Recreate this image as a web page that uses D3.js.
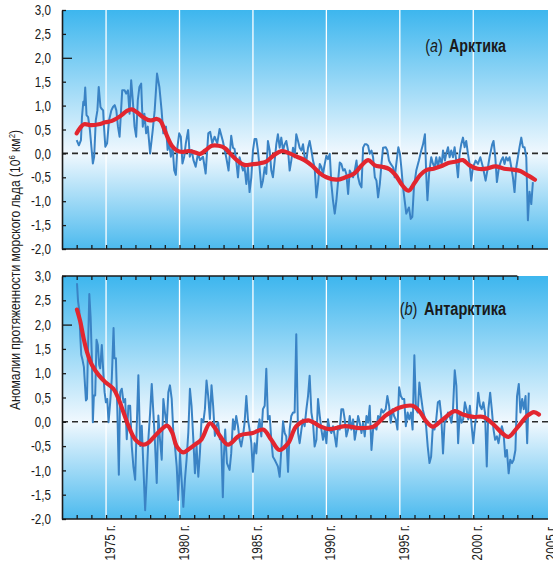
<!DOCTYPE html>
<html>
<head>
<meta charset="utf-8">
<script src="https://cdn.jsdelivr.net/npm/d3@7"></script>
<style>
  body { margin: 0; background: #fff; }
  svg text { font-family: "Liberation Sans", Arial, sans-serif; fill: #1a1a1a; }
</style>
</head>
<body>
<div id="chart"></div>
<script>
// monthly anomalies [year, 10^6 km2]
var arcticMonthly = [
  [1973.0,0.28],[1973.15,0.17],[1973.29,0.28],[1973.36,0.76],[1973.45,1.08],[1973.51,1.01],[1973.58,1.38],[1973.67,0.8],
  [1973.78,0.76],[1973.9,0.49],[1974.0,0.14],[1974.1,-0.21],[1974.19,-0.07],[1974.3,0.69],[1974.41,0.9],[1974.5,1.39],
  [1974.62,0.97],[1974.68,0.94],[1974.8,0.9],[1974.86,0.56],[1974.95,0.14],[1975.07,0.21],[1975.2,0.69],[1975.36,0.9],
  [1975.47,0.97],[1975.59,1.01],[1975.7,0.9],[1975.81,0.56],[1975.92,0.35],[1976.1,1.32],[1976.26,1.32],[1976.37,1.25],
  [1976.49,1.32],[1976.6,0.83],[1976.71,1.53],[1976.82,1.11],[1976.94,0.56],[1977.05,0.35],[1977.16,1.11],[1977.27,1.39],
  [1977.39,1.46],[1977.5,0.56],[1977.61,0.83],[1977.73,0.42],[1977.84,0.56],[1978.0,0.0],[1978.18,0.49],[1978.31,0.9],
  [1978.47,1.67],[1978.63,1.39],[1978.78,0.9],[1978.9,0.42],[1979.08,0.56],[1979.19,0.07],[1979.3,0.21],[1979.41,-0.07],
  [1979.53,0.14],[1979.64,-0.35],[1979.75,-0.45],[1979.86,0.14],[1979.98,0.42],[1980.09,0.35],[1980.2,-0.21],[1980.32,-0.07],
  [1980.43,0.21],[1980.59,0.49],[1980.7,-0.07],[1980.83,0.07],[1980.95,-0.14],[1981.1,-0.28],[1981.26,0.0],[1981.4,-0.14],
  [1981.6,-0.07],[1981.78,-0.42],[1981.96,0.42],[1982.09,0.45],[1982.23,0.21],[1982.39,0.35],[1982.57,0.21],
  [1982.73,0.51],[1982.95,0.26],[1983.18,-0.08],[1983.34,-0.36],[1983.52,0.37],[1983.64,0.12],[1983.75,0.09],[1983.86,-0.15],
  [1983.98,-0.5],[1984.09,-0.08],[1984.2,-0.22],[1984.32,-0.36],[1984.43,-0.29],[1984.55,-0.64],[1984.66,-0.29],[1984.77,-0.81],
  [1984.89,-0.5],[1985.0,0.06],[1985.11,0.3],[1985.23,0.3],[1985.34,0.06],[1985.45,-0.29],[1985.57,-0.71],[1985.68,-0.57],
  [1985.8,-0.29],[1985.91,-0.43],[1986.02,0.26],[1986.14,0.06],[1986.25,-0.36],[1986.36,-0.5],[1986.48,-0.15],[1986.59,0.19],
  [1986.7,0.4],[1986.82,0.12],[1986.93,0.33],[1987.05,0.06],[1987.16,0.19],[1987.27,0.26],[1987.39,0.06],[1987.5,-0.36],
  [1987.61,-0.15],[1987.73,0.12],[1987.84,-0.08],[1987.95,0.4],[1988.07,0.26],[1988.18,0.12],[1988.3,0.06],[1988.41,0.19],
  [1988.52,-0.08],[1988.64,-0.15],[1988.75,0.12],[1988.86,0.26],[1988.98,0.06],[1989.09,-0.15],[1989.2,-0.29],[1989.32,-0.92],
  [1989.43,-0.64],[1989.55,-0.22],[1989.66,-0.29],[1989.77,-0.43],[1989.89,-0.22],[1990.0,-0.05],[1990.11,-0.12],[1990.23,-0.01],
  [1990.34,-0.64],[1990.45,-0.99],[1990.57,-1.26],[1990.68,-0.99],[1990.8,-0.57],[1990.91,-0.19],[1991.02,-0.22],[1991.14,-0.36],
  [1991.25,-0.33],[1991.36,-0.43],[1991.48,-0.85],[1991.59,-0.36],[1991.7,-0.43],[1991.82,-0.5],[1991.93,-0.36],[1992.05,-0.15],
  [1992.16,-0.5],[1992.27,-0.64],[1992.39,-0.71],[1992.5,0.12],[1992.61,0.19],[1992.73,0.19],[1992.84,0.16],[1992.95,-0.01],
  [1993.07,0.06],[1993.18,-0.08],[1993.3,-0.5],[1993.41,-0.57],[1993.52,-0.92],[1993.64,-0.64],[1993.75,-0.22],[1993.86,0.12],
  [1994.04,0.13],[1994.15,0.06],[1994.26,-0.15],[1994.38,-0.22],[1994.54,-0.29],[1994.65,-0.5],[1994.76,-0.22],[1994.9,0.13],
  [1995.01,-0.01],[1995.1,-0.29],[1995.22,-0.71],[1995.33,-0.99],[1995.44,-1.26],[1995.62,-1.13],[1995.74,-1.37],[1995.85,-1.33],
  [1995.96,-0.71],[1996.12,-0.36],[1996.3,-0.15],[1996.46,0.06],[1996.58,0.19],[1996.71,0.4],[1996.8,-0.45],[1996.88,-0.98],
  [1997.0,-0.4],[1997.14,-0.08],[1997.26,-0.22],[1997.37,-0.29],[1997.48,-0.08],[1997.6,-0.29],[1997.71,-0.08],[1997.85,-0.22],
  [1997.94,0.06],[1998.07,-0.15],[1998.16,-0.01],[1998.28,0.13],[1998.39,-0.08],[1998.5,0.06],[1998.62,-0.08],[1998.73,0.13],
  [1998.84,-0.15],[1998.96,-0.5],[1999.07,-0.01],[1999.18,0.19],[1999.3,0.33],[1999.41,0.13],[1999.52,0.26],[1999.64,-0.01],
  [1999.75,-0.22],[1999.86,-0.57],[1999.98,-0.29],[2000.16,-0.15],[2000.32,-0.22],[2000.48,-0.08],[2000.66,-0.29],[2000.84,-0.57],
  [2001.0,-0.29],[2001.11,-0.08],[2001.29,0.19],[2001.38,0.26],[2001.5,-0.08],[2001.61,-0.6],[2001.75,-0.29],[2001.9,-0.15],
  [2002.02,-0.08],[2002.13,-0.22],[2002.24,-0.08],[2002.36,-0.15],[2002.47,-0.08],[2002.59,-0.29],[2002.7,-0.5],[2002.81,-0.81],
  [2002.93,-0.29],[2003.04,-0.08],[2003.15,0.13],[2003.27,0.33],[2003.38,0.13],[2003.49,0.13],[2003.61,-0.08],[2003.72,-1.4],
  [2003.83,-0.8],[2003.95,-1.06],[2004.06,-0.6]
];

var arcticTrend = [
  [1973.0,0.42],[1973.25,0.54],[1973.5,0.61],[1974.0,0.59],[1974.5,0.61],[1974.95,0.65],[1975.4,0.68],[1975.97,0.78],
  [1976.42,0.89],[1976.76,0.92],[1977.1,0.86],[1977.56,0.75],[1978.0,0.69],[1978.46,0.72],[1978.7,0.68],[1978.92,0.54],
  [1979.14,0.37],[1979.48,0.16],[1979.82,0.06],[1980.16,0.03],[1980.62,0.05],[1981.07,0.02],[1981.41,-0.01],[1981.75,0.06],
  [1982.2,0.16],[1982.66,0.16],[1983.1,0.11],[1983.5,-0.02],[1983.9,-0.14],[1984.4,-0.24],[1984.9,-0.23],[1985.4,-0.21],
  [1985.9,-0.17],[1986.5,-0.02],[1987.0,0.05],[1987.5,0.0],[1988.0,-0.07],[1988.5,-0.14],[1989.0,-0.25],[1989.5,-0.4],
  [1990.0,-0.5],[1990.7,-0.55],[1991.3,-0.5],[1991.9,-0.42],[1992.4,-0.25],[1992.85,-0.14],[1993.3,-0.25],[1993.8,-0.28],
  [1994.3,-0.33],[1994.7,-0.45],[1995.2,-0.68],[1995.6,-0.78],[1996.0,-0.62],[1996.4,-0.45],[1996.8,-0.35],[1997.3,-0.32],
  [1997.8,-0.27],[1998.3,-0.2],[1998.85,-0.17],[1999.3,-0.14],[1999.75,-0.25],[2000.3,-0.32],[2000.9,-0.32],[2001.5,-0.27],
  [2002.1,-0.32],[2002.7,-0.34],[2003.2,-0.37],[2003.6,-0.44],[2004.2,-0.55]
];

var antarcticMonthly = [
  [1973.02,2.85],[1973.09,2.49],[1973.18,2.28],[1973.24,1.79],[1973.31,1.38],[1973.4,1.27],[1973.49,1.13],[1973.63,0.44],
  [1973.7,0.47],[1973.76,1.38],[1973.86,2.63],[1973.95,2.14],[1974.04,1.24],[1974.1,-0.01],[1974.17,0.54],[1974.26,0.54],
  [1974.35,1.69],[1974.44,1.58],[1974.53,1.17],[1974.6,1.1],[1974.71,1.58],[1974.81,1.03],[1974.9,0.61],[1974.99,0.4],
  [1975.08,0.47],[1975.17,-0.01],[1975.28,0.4],[1975.39,0.89],[1975.51,1.93],[1975.57,1.31],[1975.67,1.31],[1975.76,0.33],
  [1975.87,-1.09],[1975.96,0.61],[1976.07,0.68],[1976.19,0.4],[1976.3,0.47],[1976.41,-0.36],[1976.52,0.33],[1976.64,0.33],
  [1976.75,-0.5],[1976.86,-0.92],[1976.98,-1.19],[1977.09,-0.08],[1977.2,0.96],[1977.32,-0.5],[1977.43,-0.08],[1977.54,-0.92],
  [1977.66,-1.82],[1977.77,-1.13],[1977.88,-0.36],[1978.0,0.19],[1978.11,0.78],[1978.22,0.19],[1978.33,-0.43],[1978.45,-1.26],
  [1978.56,0.13],[1978.67,-0.36],[1978.79,-0.78],[1978.9,0.47],[1979.01,0.19],[1979.13,-0.08],[1979.24,0.61],[1979.35,0.75],
  [1979.47,0.47],[1979.58,-0.22],[1979.69,-0.5],[1979.81,-0.92],[1979.92,-1.61],[1980.03,-0.64],[1980.14,-1.19],[1980.26,-1.75],
  [1980.37,-1.19],[1980.48,-0.78],[1980.6,-0.22],[1980.71,0.68],[1980.82,0.33],[1980.94,-0.36],[1981.05,-1.06],[1981.16,-0.5],
  [1981.28,-1.13],[1981.39,-0.64],[1981.5,0.06],[1981.62,-0.01],[1981.73,0.26],[1981.84,0.85],[1981.95,0.54],[1982.07,0.06],
  [1982.18,0.75],[1982.29,0.33],[1982.41,-0.29],[1982.52,-0.08],[1982.63,-0.01],[1982.75,-0.36],
  [1982.84,-0.37],[1982.95,-1.55],[1983.02,-0.72],[1983.11,-0.16],[1983.23,-0.85],[1983.41,-0.99],[1983.52,-0.65],[1983.64,0.05],
  [1983.75,-0.16],[1983.86,0.12],[1983.98,-0.09],[1984.09,-0.37],[1984.2,-0.51],[1984.32,-0.3],[1984.43,-0.02],[1984.55,0.53],
  [1984.66,0.05],[1984.77,-0.16],[1984.89,-0.44],[1985.0,-1.03],[1985.11,-0.44],[1985.23,-0.65],[1985.34,-0.16],[1985.45,0.05],
  [1985.57,-0.3],[1985.68,0.26],[1985.8,0.33],[1985.91,1.09],[1986.02,0.05],[1986.14,0.12],[1986.25,-0.37],[1986.36,-0.72],
  [1986.48,-0.78],[1986.59,-0.85],[1986.7,-0.92],[1986.82,-1.13],[1986.93,-0.58],[1987.05,0.01],[1987.16,-0.23],[1987.27,-0.3],
  [1987.39,-1.03],[1987.5,-0.16],[1987.61,0.12],[1987.73,0.19],[1987.84,0.19],[1987.95,1.8],[1988.07,-0.23],[1988.18,-0.44],
  [1988.3,-0.16],[1988.41,0.05],[1988.52,-0.09],[1988.64,0.26],[1988.75,0.53],[1988.86,0.95],[1988.98,0.19],[1989.09,-0.02],
  [1989.2,-0.51],[1989.32,-0.37],[1989.43,0.47],[1989.55,0.12],[1989.66,-0.16],[1989.77,-0.37],[1989.89,-0.16],[1990.0,-0.44],
  [1990.11,0.05],[1990.23,-0.16],[1990.34,-0.23],[1990.45,-0.09],[1990.57,-0.3],[1990.68,-0.51],[1990.8,-0.09],[1990.91,-0.16],
  [1991.02,0.26],[1991.14,0.26],[1991.25,0.05],[1991.36,-0.3],[1991.48,-0.16],[1991.59,0.12],[1991.7,-0.16],[1991.82,0.05],
  [1991.93,-0.37],[1992.05,-0.16],[1992.16,0.12],[1992.27,-0.02],[1992.39,-0.23],[1992.5,-0.02],[1992.61,-0.3],[1992.73,0.12],
  [1992.84,-0.02],[1992.95,0.33],[1993.07,-0.58],[1993.18,-0.16],[1993.3,-0.09],[1993.41,-0.16],[1993.52,0.12],[1993.64,0.05],
  [1993.75,0.26],[1993.86,0.19],
  [1994.04,0.26],[1994.15,0.53],[1994.27,0.33],[1994.38,-0.02],[1994.5,0.26],[1994.61,0.12],[1994.72,0.05],[1994.84,-0.16],
  [1994.95,0.71],[1995.07,0.53],[1995.18,0.47],[1995.3,0.47],[1995.41,-0.09],[1995.53,0.19],[1995.64,0.05],[1995.76,0.19],
  [1995.87,-0.16],[1995.99,1.37],[1996.1,0.26],[1996.22,0.19],[1996.33,0.81],[1996.44,0.53],[1996.56,0.26],[1996.67,0.12],
  [1996.79,-0.09],[1996.9,-0.51],[1997.02,-0.85],[1997.13,-0.72],[1997.25,-0.09],[1997.36,-0.16],[1997.48,0.05],[1997.59,0.4],
  [1997.71,0.43],[1997.82,0.12],[1997.94,-0.65],[1998.05,-0.02],[1998.17,0.05],[1998.28,0.19],[1998.39,0.12],[1998.51,-0.02],
  [1998.62,0.26],[1998.74,1.06],[1998.85,0.74],[1998.97,-0.44],[1999.08,0.19],[1999.2,-0.02],[1999.31,0.05],[1999.43,0.4],
  [1999.54,0.26],[1999.66,0.05],[1999.77,0.33],[1999.89,-0.09],[2000.0,-0.44],[2000.11,-0.09],[2000.23,0.19],[2000.34,0.6],
  [2000.46,0.33],[2000.57,0.26],[2000.69,0.4],[2000.8,0.19],[2000.92,-0.92],[2001.03,0.26],[2001.15,0.6],[2001.26,0.26],
  [2001.38,-0.16],[2001.49,-0.37],[2001.61,-0.3],[2001.72,-0.44],[2001.83,-0.23],[2001.95,-0.09],[2002.06,-0.23],[2002.18,-0.72],
  [2002.29,-0.58],[2002.41,-1.06],[2002.52,-0.78],[2002.64,-0.85],[2002.75,-0.78],[2002.87,-0.58],[2002.98,0.53],[2003.1,0.78],
  [2003.21,0.19],[2003.33,0.47],[2003.44,0.26],[2003.56,0.53],[2003.67,-0.44],[2003.78,0.6]
];

var antarcticTrend = [
  [1973.02,2.31],[1973.24,2.07],[1973.47,1.72],[1973.7,1.44],[1974.04,1.17],[1974.5,0.96],[1974.94,0.82],[1975.5,0.68],
  [1975.85,0.47],[1976.19,0.19],[1976.52,-0.08],[1976.98,-0.36],[1977.54,-0.47],[1977.88,-0.43],[1978.33,-0.29],[1978.79,-0.15],
  [1979.15,-0.08],[1979.5,-0.22],[1979.8,-0.5],[1980.26,-0.63],[1980.6,-0.57],[1981.05,-0.47],[1981.5,-0.36],[1982.07,-0.03],
  [1982.4,-0.12],[1982.75,-0.29],[1983.3,-0.47],[1984.1,-0.28],[1985.0,-0.23],[1985.7,-0.16],[1986.25,-0.37],[1986.8,-0.58],
  [1987.4,-0.44],[1987.95,-0.09],[1988.75,0.03],[1989.55,-0.09],[1990.2,-0.15],[1991.25,-0.09],[1992.27,-0.13],[1993.2,-0.1],
  [1993.6,0.0],[1994.0,0.12],[1994.5,0.22],[1994.95,0.29],[1995.87,0.33],[1996.33,0.22],[1996.8,0.01],[1997.25,-0.1],
  [1997.93,0.05],[1998.74,0.22],[1999.3,0.15],[2000.0,0.1],[2000.7,0.1],[2001.4,-0.06],[2001.95,-0.23],[2002.4,-0.31],
  [2003.0,-0.12],[2003.67,0.12],[2004.13,0.2],[2004.47,0.15]
];

var yTicks = [-2, -1.5, -1, -0.5, 0, 0.5, 1, 1.5, 2, 2.5, 3];
var gridYears = [1975, 1980, 1985, 1990, 1995, 2000];
var labelYears = [1975, 1980, 1985, 1990, 1995, 2000, 2005];
var minorYears = d3.range(1973, 2005);

var fmt = d3.formatLocale({ decimal: ",", thousands: " ", grouping: [3], currency: ["", ""], minus: "-" }).format(".1f");

// squeeze text horizontally to imitate the narrow typeface of the original
function condense(sel, k) {
  sel.each(function () {
    var len = this.getComputedTextLength();
    d3.select(this).attr("textLength", len * k).attr("lengthAdjust", "spacingAndGlyphs");
  });
}

var svg = d3.select("#chart").append("svg")
  .attr("width", 553)
  .attr("height", 563);

// background gradient: blue at the edges, white around zero
var grad = svg.append("defs").append("linearGradient")
  .attr("id", "bg").attr("x1", 0).attr("y1", 0).attr("x2", 0).attr("y2", 1);
grad.append("stop").attr("offset", "0%").attr("stop-color", "#3db6ee");
grad.append("stop").attr("offset", "60%").attr("stop-color", "#f0f8fe");
grad.append("stop").attr("offset", "100%").attr("stop-color", "#4cbaee");

var x = d3.scaleLinear().domain([1972, 2005]).range([62, 546.7]);

var panels = [
  { monthly: arcticMonthly, trend: arcticTrend, top: 10, bottom: 249, letter: "a", name: "Арктика", titleY: 52, topAxis: false },
  { monthly: antarcticMonthly, trend: antarcticTrend, top: 276, bottom: 519, letter: "b", name: "Антарктика", titleY: 315, topAxis: true }
];

panels.forEach(function (p) {
  var y = d3.scaleLinear().domain([-2, 3]).range([p.bottom, p.top]);
  var g = svg.append("g");

  g.append("rect")
    .attr("x", 62).attr("y", p.top)
    .attr("width", 548 - 62).attr("height", p.bottom - p.top)
    .attr("fill", "url(#bg)");

  // white year gridlines
  g.selectAll(".grid")
    .data(gridYears)
    .enter().append("line")
    .attr("x1", function (d) { return x(d); })
    .attr("x2", function (d) { return x(d); })
    .attr("y1", p.top).attr("y2", p.bottom)
    .attr("stroke", "#fff").attr("stroke-width", 1.3);

  // zero line
  g.append("line")
    .attr("x1", 62).attr("x2", 548)
    .attr("y1", y(0)).attr("y2", y(0))
    .attr("stroke", "#2a2a2a").attr("stroke-width", 1.6)
    .attr("stroke-dasharray", "6,4");

  var line = d3.line()
    .x(function (d) { return x(d[0]); })
    .y(function (d) { return y(d[1]); });

  g.append("path")
    .datum(p.monthly)
    .attr("d", line)
    .attr("fill", "none")
    .attr("stroke", "#3a83c5")
    .attr("stroke-width", 2)
    .attr("stroke-linejoin", "round");

  g.append("path")
    .datum(p.trend)
    .attr("d", line.curve(d3.curveCatmullRom.alpha(0.5)))
    .attr("fill", "none")
    .attr("stroke", "#e2262f")
    .attr("stroke-width", 4.2)
    .attr("stroke-linecap", "round")
    .attr("stroke-linejoin", "round");

  // y axis, ticks pointing inward
  var yAxis = g.append("g")
    .attr("transform", "translate(62,0)")
    .call(d3.axisLeft(y).tickValues(yTicks).tickFormat(fmt)
      .tickSizeInner(-4).tickSizeOuter(0).tickPadding(11));
  yAxis.select(".domain").attr("stroke", "#1a1a1a").attr("stroke-width", 1.6);
  yAxis.selectAll(".tick line").attr("stroke", "#1a1a1a").attr("stroke-width", 1.3)
    .attr("x2", function (d) { return d === 2 ? 10 : 4; });
  yAxis.selectAll(".tick text").style("font-size", "14.5px").attr("fill", "#1a1a1a")
    .call(condense, 0.8);

  // bottom axis with yearly ticks
  var xAxis = g.append("g")
    .attr("transform", "translate(0," + p.bottom + ")")
    .call(d3.axisBottom(x).tickValues(minorYears).tickFormat("")
      .tickSizeInner(-4).tickSizeOuter(0));
  xAxis.select(".domain").attr("d", "M62,0H548").attr("stroke", "#1a1a1a").attr("stroke-width", 1.6);
  xAxis.selectAll(".tick line").attr("stroke", "#1a1a1a").attr("stroke-width", 1.3);

  if (p.topAxis) {
    var tAxis = g.append("g")
      .attr("transform", "translate(0," + p.top + ")")
      .call(d3.axisTop(x).tickValues(d3.range(1973, 2004)).tickFormat("")
        .tickSizeInner(-4).tickSizeOuter(0));
    tAxis.select(".domain").attr("d", "M62,0H" + x(2003)).attr("stroke", "#1a1a1a").attr("stroke-width", 1.6);
    tAxis.selectAll(".tick line").attr("stroke", "#1a1a1a").attr("stroke-width", 1.3);
  }

  var title = g.append("text")
    .attr("x", 506).attr("y", p.titleY)
    .attr("text-anchor", "end")
    .style("font-size", "18px");
  title.append("tspan").text("(");
  title.append("tspan").style("font-style", "italic").text(p.letter);
  title.append("tspan").text(")");
  title.append("tspan").attr("dx", 8).style("font-weight", "bold").text(p.name);
  title.call(condense, 0.86);

  if (p === panels[1]) {
    g.selectAll(".yr")
      .data(labelYears)
      .enter().append("text")
      .attr("transform", function (d) { return "translate(" + x(d) + "," + p.bottom + ") rotate(-90)"; })
      .attr("x", -6).attr("y", 9)
      .attr("text-anchor", "end")
      .style("font-size", "15px")
      .text(function (d) { return d + " г."; })
      .call(condense, 0.78);
  }
});

// y axis title
var yt = svg.append("text")
  .attr("transform", "translate(20,270) rotate(-90)")
  .attr("text-anchor", "middle")
  .style("font-size", "14px");
yt.append("tspan").text("Аномалии протяженности морского льда (10");
yt.append("tspan").attr("dy", -5).style("font-size", "9px").text("6");
yt.append("tspan").attr("dy", 5).text(" км");
yt.append("tspan").attr("dy", -5).style("font-size", "9px").text("2");
yt.append("tspan").attr("dy", 5).text(")");
yt.attr("textLength", 280).attr("lengthAdjust", "spacingAndGlyphs");
</script>
</body>
</html>
